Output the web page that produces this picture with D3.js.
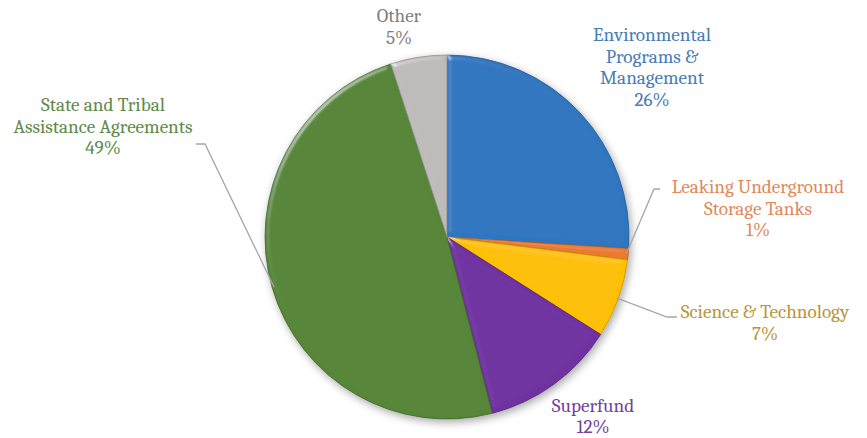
<!DOCTYPE html>
<html><head><meta charset="utf-8">
<script src="https://cdn.jsdelivr.net/npm/d3@7"></script>
<style>body{margin:0;background:#fff}svg{display:block}</style>
</head><body>
<svg id="c" width="867" height="438"></svg>
<script>
const categories = ["Environmental Programs & Management","Leaking Underground Storage Tanks","Science & Technology","Superfund","State and Tribal Assistance Agreements","Other"];
const values = [26, 1, 7, 12, 49, 5];
const labelLines = [["Environmental","Programs &","Management"],["Leaking Underground","Storage Tanks"],["Science & Technology"],["Superfund"],["State and Tribal","Assistance Agreements"],["Other"]];
const colors = ["#2f76bf","#ea7a2e","#ffc000","#7030a0","#568637","#bfbaba"];
const textColors = ["#4a7cb5","#df8a5c","#b8963c","#7441a3","#5f8a4c","#7f7f7f"];

// layout (label block centre x, first baseline y) and leader line points
const layout = [
  {x:652, y:41, leader:null},
  {x:758, y:193, leader:[[660,189],[654,189]]},
  {x:765, y:318, leader:[[677,317],[667,317]]},
  {x:593, y:412, leader:null},
  {x:103, y:111, leader:[[196,144],[205,144]]},
  {x:399, y:22, leader:null}
];

const svg = d3.select("#c");
const cx = 447, cy = 237, R = 182;
const defs = svg.append("defs");

const f = defs.append("filter").attr("id","bevel").attr("x","-10%").attr("y","-10%").attr("width","120%").attr("height","120%");
f.append("feGaussianBlur").attr("in","SourceAlpha").attr("stdDeviation",2.5).attr("result","blur");
const sp = f.append("feSpecularLighting").attr("in","blur").attr("surfaceScale",3).attr("specularConstant",0.7).attr("specularExponent",30).attr("lighting-color","#ffffff").attr("result","spec");
sp.append("feDistantLight").attr("azimuth",225).attr("elevation",30);
f.append("feComposite").attr("in","spec").attr("in2","SourceAlpha").attr("operator","in").attr("result","specIn");
f.append("feComposite").attr("in","SourceGraphic").attr("in2","specIn").attr("operator","arithmetic").attr("k1",0).attr("k2",1).attr("k3",0.5).attr("k4",0);

const sh = defs.append("filter").attr("id","shadow").attr("x","-20%").attr("y","-20%").attr("width","140%").attr("height","140%");
sh.append("feGaussianBlur").attr("in","SourceAlpha").attr("stdDeviation",4).attr("result","b");
sh.append("feOffset").attr("in","b").attr("dx",2).attr("dy",3).attr("result","o");
sh.append("feComponentTransfer").attr("in","o").attr("result","o2").append("feFuncA").attr("type","linear").attr("slope",0.35);
const m = sh.append("feMerge"); m.append("feMergeNode").attr("in","o2"); m.append("feMergeNode").attr("in","SourceGraphic");

const pie = d3.pie().sort(null).value(d=>d)(values);
const arc = d3.arc().innerRadius(0).outerRadius(R);

const g = svg.append("g").attr("transform",`translate(${cx},${cy})`);
const shadowG = g.append("g").attr("filter","url(#shadow)");
shadowG.selectAll("path").data(pie).join("path")
  .attr("d",arc).attr("fill",(d,i)=>colors[i])
  .attr("filter","url(#bevel)")
  .attr("stroke",(d,i)=>d3.color(colors[i]).darker(0.8)).attr("stroke-width",0.8);

// leader lines
pie.forEach((d,i)=>{
  const L = layout[i].leader; if(!L) return;
  const a = (d.startAngle+d.endAngle)/2;
  const px = cx + Math.sin(a)*(R-2), py = cy - Math.cos(a)*(R-2);
  svg.append("polyline").attr("points",[...L,[px,py]].map(p=>p.join(",")).join(" "))
    .attr("fill","none").attr("stroke","#a6a6a6").attr("stroke-width",1.3);
});

// labels
const lh = 21.5;
pie.forEach((d,i)=>{
  const t = svg.append("text").attr("text-anchor","middle")
    .attr("font-family","Cambria, Caladea, 'DejaVu Serif', serif").attr("font-size",19.2)
    .attr("fill",textColors[i]);
  const lines = [...labelLines[i], d3.format(".0f")(values[i])+"%"];
  lines.forEach((s,k)=>t.append("tspan").attr("x",layout[i].x).attr("y",layout[i].y+k*(i===3?21:lh)).text(s));
});
</script>
</body></html>
